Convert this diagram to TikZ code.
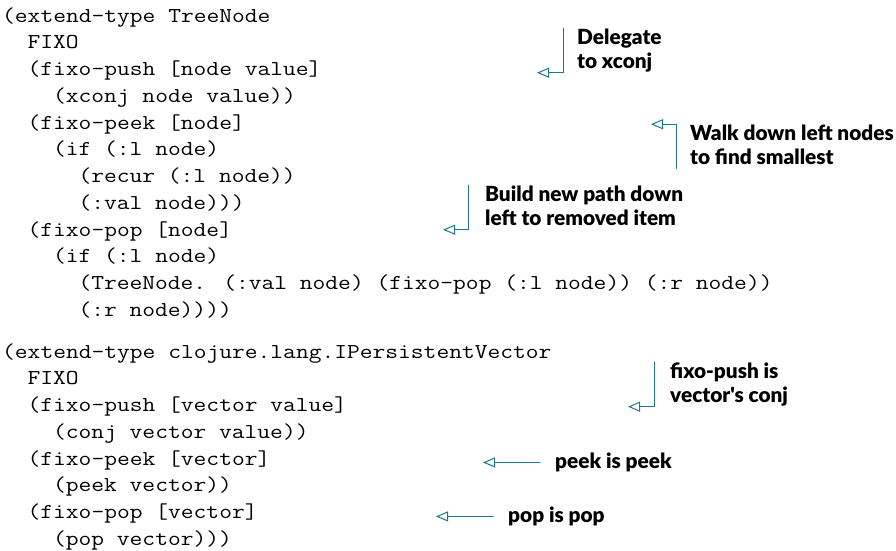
\documentclass[tikz,border=0pt]{standalone}
\usepackage{fontspec}
\usepackage{tikz}
\usetikzlibrary{arrows.meta}
\newfontfamily\codefont{Latin Modern Mono}[FakeStretch=1.17]
\IfFontExistsTF{Lato Black}
  {\newfontfamily\notefont{Lato}[BoldFont={Lato Black}]}
  {\newfontfamily\notefont{Lato}}
\definecolor{callteal}{RGB}{24,122,138}

\begin{document}
\begin{tikzpicture}[x=1pt,y=-1pt,line cap=round,line join=round,
    code/.style={anchor=base west,inner sep=0pt,font=\codefont\fontsize{21.2}{26.75}\selectfont},
    note/.style={anchor=base west,inner sep=0pt,align=left,text depth=4.5pt,font=\notefont\bfseries\fontsize{20.8}{24}\selectfont},
    callout/.style={draw=callteal,line width=1pt,-{Triangle[length=12pt,width=10pt,fill=white]}}]
    \useasboundingbox (0,0) rectangle (896,550);
    % extend-type TreeNode
    \node[code] (tn1) at (2,22) {(extend-type TreeNode};
    \node[code] (tn2) at (27.44,48.75) {FIXO};
    \node[code] (tn3) at (27.44,75.5) {(fixo-push [node value]};
    \node[code] (tn4) at (52.88,102.25) {(xconj node value))};
    \node[code] (tn5) at (27.44,129) {(fixo-peek [node]};
    \node[code] (tn6) at (52.88,155.75) {(if (:l node)};
    \node[code] (tn7) at (78.32,182.5) {(recur (:l node))};
    \node[code] (tn8) at (78.32,209.25) {(:val node)))};
    \node[code] (tn9) at (27.44,236) {(fixo-pop [node]};
    \node[code] (tn10) at (52.88,262.75) {(if (:l node)};
    \node[code] (tn11) at (78.32,289.5) {(TreeNode. (:val node) (fixo-pop (:l node)) (:r node))};
    \node[code] (tn12) at (78.32,316.25) {(:r node))))};
    % extend-type IPersistentVector
    \node[code] (pv1) at (2,358) {(extend-type clojure.lang.IPersistentVector};
    \node[code] (pv2) at (27.44,384.75) {FIXO};
    \node[code] (pv3) at (27.44,411.5) {(fixo-push [vector value]};
    \node[code] (pv4) at (52.88,438.25) {(conj vector value))};
    \node[code] (pv5) at (27.44,465) {(fixo-peek [vector]};
    \node[code] (pv6) at (52.88,491.75) {(peek vector))};
    \node[code] (pv7) at (27.44,518.5) {(fixo-pop [vector]};
    \node[code] (pv8) at (52.88,545.25) {(pop vector)))};
    % callouts (base = last line)
    \node[note] (delegate) at (577,68) {Delegate\\to xconj};
    \node[note] (walk) at (690,164) {Walk down left nodes\\to find smallest};
    \node[note] (build) at (485,225) {Build new path down\\left to removed item};
    \node[note] (vpush) at (670,402) {fixo-push is\\vector's conj};
    \node[note] (vpeek) at (555,468) {peek is peek};
    \node[note] (vpop) at (508,522) {pop is pop};
    \coordinate (delegatetip) at ([xshift=-40pt]delegate.south west);
    \coordinate (walktip) at ([xshift=-39pt]walk.north west);
    \coordinate (buildtip) at ([xshift=-42pt]build.south west);
    \coordinate (vpushtip) at ([xshift=-42pt]vpush.south west);
    \coordinate (vpeektip) at ([xshift=-72pt]vpeek.west);
    \coordinate (vpoptip) at ([xshift=-72pt]vpop.west);
    \draw[callout] ([xshift=-14pt]delegate.north west) |- (delegatetip);
    \draw[callout] ([xshift=-14pt]walk.south west) |- (walktip);
    \draw[callout] ([xshift=-17pt]build.north west) |- (buildtip);
    \draw[callout] ([xshift=-16pt]vpush.north west) |- (vpushtip);
    \draw[callout] ([xshift=-15pt]vpeek.west) -- (vpeektip);
    \draw[callout] ([xshift=-15pt]vpop.west) -- (vpoptip);
\end{tikzpicture}
\end{document}
